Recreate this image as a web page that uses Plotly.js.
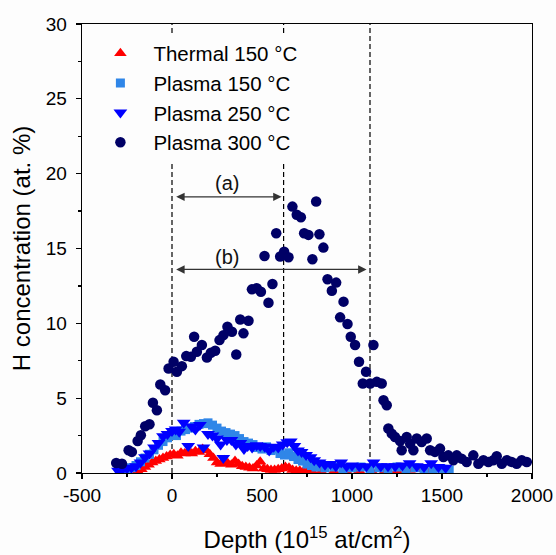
<!DOCTYPE html>
<html>
<head>
<meta charset="utf-8">
<script src="https://cdn.plot.ly/plotly-3.0.1.min.js"></script>
<style>html,body{margin:0;padding:0;background:#fff;}#chart{width:556px;height:555px;}</style>
</head>
<body>
<div id="chart"></div>
<script>
// Thermal 150 °C
var thermalX = [-190,-170,-150,-130,-110,-90,-70,-50,-30,-10,10,30,50,70,90,110,130,150,170,190,210,230,250,270,290,310,330,350,370,390,410,430,450,470,490,510,530,550,570,590,610,630,650,670,690,710,730,750,780,830,900,970,1040,1110,1180,1250,1320,1380,1440];
var thermalY = [0.12,0.25,0.4,0.55,0.7,0.8,0.9,1.0,1.1,1.2,1.25,1.15,1.35,1.3,1.45,1.3,1.45,1.4,1.6,1.5,1.25,1.0,0.7,0.6,0.85,0.65,0.55,0.8,0.6,0.45,0.4,0.35,0.3,0.5,0.75,0.3,0.25,0.2,0.2,0.25,0.3,0.4,0.35,0.2,0.15,0.15,0.1,0.1,0.1,0.1,0.12,0.1,0.15,0.12,0.1,0.15,0.2,0.25,0.2];
// Plasma 150 °C
var p150X = [-250,-225,-200,-175,-150,-125,-100,-75,-50,-25,0,25,50,75,100,125,150,175,200,225,250,275,300,325,350,375,400,425,450,475,500,525,550,575,600,625,650,675,700,725,750,775,800,850,900,950,1000,1050,1100,1150,1200,1250,1300,1350,1400,1450,1500,1540];
var p150Y = [0.2,0.35,0.5,0.75,1.0,1.25,1.55,1.85,2.1,2.35,2.6,2.5,2.8,2.9,3.0,3.1,3.25,3.3,3.35,3.2,3.0,2.8,2.7,2.6,2.5,2.3,2.1,2.0,1.9,1.7,1.6,1.75,1.5,1.6,1.3,1.2,1.35,1.1,0.9,0.8,0.6,0.5,0.4,0.35,0.4,0.3,0.35,0.4,0.3,0.35,0.3,0.4,0.3,0.35,0.3,0.3,0.25,0.2];
// Plasma 250 °C
var p250X = [-300,-275,-250,-225,-200,-175,-150,-125,-100,-75,-50,-25,0,20,40,65,90,110,130,155,175,200,225,250,270,285,305,330,355,380,400,420,445,470,490,515,540,565,590,615,640,660,680,700,720,745,770,790,820,850,880,910,940,970,1000,1040,1080,1120,1160,1200,1240,1280,1320,1360,1400,1440,1480,1520];
var p250Y = [0.15,0.25,0.3,0.35,0.45,0.7,1.05,1.3,1.7,2.0,2.45,2.6,2.8,2.9,2.75,3.35,1.8,3.1,2.9,3.2,1.7,2.6,2.5,2.3,1.9,1.0,2.2,2.2,1.9,2.0,1.6,1.8,1.7,1.85,1.8,1.75,1.5,1.75,1.7,1.9,2.05,2.1,1.8,1.5,1.4,1.2,1.05,0.85,0.7,0.55,0.6,0.45,0.7,0.45,0.5,0.45,0.45,0.7,0.45,0.45,0.45,0.5,0.65,0.45,0.4,0.65,0.4,0.35];
// Plasma 300 °C
var p300X = [-310,-278,-241,-223,-191,-173,-149,-125,-106,-84,-65,-38,-19,9,27,55,79,105,123,138,166,194,216,240,264,286,308,333,357,379,397,425,444,471,494,514,536,558,579,601,623,647,669,693,716,734,758,780,801,819,841,864,888,912,934,953,975,993,1017,1039,1060,1078,1101,1119,1138,1165,1175,1193,1202,1221,1239,1267,1276,1304,1323,1341,1360,1387,1415,1434,1461,1489,1508,1535,1563,1582,1609,1637,1674,1702,1730,1758,1785,1804,1832,1860,1887,1915,1943,1971];
var p300Y = [0.67,0.62,1.52,1.41,2.14,2.52,3.12,3.26,4.69,4.19,5.91,5.53,6.98,7.43,6.76,7.14,7.81,7.76,9.10,8.10,8.55,7.72,8.03,8.17,8.88,9.21,9.77,9.44,7.92,10.26,9.33,10.17,12.27,12.34,12.11,14.50,11.38,12.63,16.02,14.46,14.79,14.41,17.80,17.25,17.09,16.02,15.91,14.28,18.14,15.95,15.06,12.94,12.18,12.72,10.40,11.45,9.95,9.10,8.55,7.43,5.98,6.76,5.98,8.55,6.09,5.98,4.86,4.53,2.97,2.63,2.41,2.14,1.52,2.41,1.96,1.52,2.30,2.07,2.30,1.52,1.41,1.63,1.07,1.18,0.85,1.18,0.96,0.74,1.18,0.62,0.85,0.74,0.85,1.12,0.62,0.85,0.74,0.62,0.85,0.74];

var seriesNames = ['Thermal 150 °C','Plasma 150 °C','Plasma 250 °C','Plasma 300 °C'];
var xTickVals = [-500,0,500,1000,1500,2000];
var xTickText = ['-500','0','500','1000','1500','2000'];
var yTickVals = [0,5,10,15,20,25,30];
var boundaryX = [0,620,1100];
var arrowA = {from:15, to:609, y:18.45, label:'(a)', labelX:308, labelY:19.4};
var arrowB = {from:15, to:1081, y:13.6, label:'(b)', labelX:308, labelY:14.45};

var FONT = 'Liberation Sans, Arial, sans-serif';

var traces = [
  {x: thermalX, y: thermalY, name: seriesNames[0], type:'scatter', mode:'markers',
   marker:{symbol:'triangle-up', size:11, color:'#ff0000'}},
  {x: p150X, y: p150Y, name: seriesNames[1], type:'scatter', mode:'markers',
   marker:{symbol:'square', size:9, color:'#2f86e8'}},
  {x: p250X, y: p250Y, name: seriesNames[2], type:'scatter', mode:'markers',
   marker:{symbol:'triangle-down', size:12, color:'#0000ff'}},
  {x: p300X, y: p300Y, name: seriesNames[3], type:'scatter', mode:'markers',
   marker:{symbol:'circle', size:10.5, color:'#000066'}}
];

var shapes = boundaryX.map(function(v){
  return {type:'line', xref:'x', yref:'y', x0:v, x1:v, y0:0, y1:30, layer:'below',
          line:{color:'#000', width:1.2, dash:'5px,3px'}};
});

function arrowAnn(a){
  return {xref:'x', yref:'y', axref:'x', ayref:'y', x:a.to, y:a.y, ax:a.from, ay:a.y,
          text:'', showarrow:true, arrowside:'end+start', arrowhead:2, startarrowhead:2,
          arrowsize:1.3, startarrowsize:1.3, arrowwidth:1.3, arrowcolor:'#333', standoff:0, startstandoff:0};
}
function labelAnn(a){
  return {xref:'x', yref:'y', x:a.labelX, y:a.labelY, text:a.label, showarrow:false,
          font:{family:FONT, size:20, color:'#111'}};
}

var layout = {
  width:556, height:555,
  margin:{l:82, r:24, t:24, b:82, pad:0},
  paper_bgcolor:'#fdfdfd', plot_bgcolor:'#fdfdfd',
  font:{family:FONT, size:19, color:'#000'},
  showlegend:true,
  legend:{x:0.012, y:0.979, xanchor:'left', yanchor:'top', bgcolor:'#fdfdfd',
          borderwidth:0, font:{family:FONT, size:20.5, color:'#000'}, itemwidth:56, tracegroupgap:0},
  xaxis:{range:[-500,2000], tickvals:xTickVals, ticktext:xTickText, ticks:'outside', ticklen:5, tickwidth:1.3, tickcolor:'#000',
         showline:true, linecolor:'#000', linewidth:1.4, mirror:true, showgrid:false, zeroline:false,
         minor:{dtick:250, tick0:0, ticks:'outside', ticklen:3, tickwidth:1.2, tickcolor:'#000', showgrid:false},
         tickfont:{family:FONT, size:19},
         title:{text:'Depth (10<sup>15</sup> at/cm<sup>2</sup>)', font:{family:FONT, size:24}, standoff:26}},
  yaxis:{range:[0,30], tickvals:yTickVals, ticks:'outside', ticklen:5, tickwidth:1.3, tickcolor:'#000',
         showline:true, linecolor:'#000', linewidth:1.4, mirror:true, showgrid:false, zeroline:false,
         minor:{dtick:2.5, tick0:0, ticks:'outside', ticklen:3, tickwidth:1.2, tickcolor:'#000', showgrid:false},
         tickfont:{family:FONT, size:19}, ticklabelstandoff:5,
         title:{text:'H concentration (at. %)', font:{family:FONT, size:24}, standoff:8}},
  shapes: shapes,
  annotations:[arrowAnn(arrowA), arrowAnn(arrowB), labelAnn(arrowA), labelAnn(arrowB)]
};

Plotly.newPlot('chart', traces, layout, {displayModeBar:false, staticPlot:true});
</script>
</body>
</html>
